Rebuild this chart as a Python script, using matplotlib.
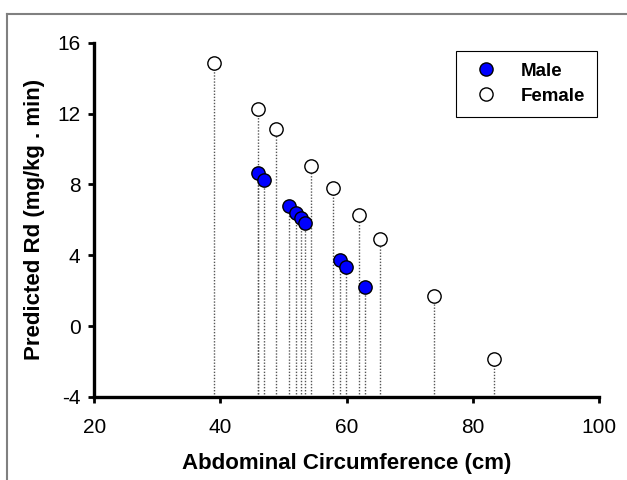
import numpy as np
import matplotlib.pyplot as plt
from matplotlib.lines import Line2D

plt.rcParams['font.family'] = ['Liberation Sans', 'DejaVu Sans']
plt.rcParams['axes.unicode_minus'] = False

# values
male_x = [45.9, 46.9, 50.9, 52.0, 52.7, 53.4, 58.9, 59.9, 62.9]
male_y = [8.62, 8.24, 6.78, 6.41, 6.12, 5.84, 3.74, 3.33, 2.19]
female_x = [38.9, 45.9, 48.8, 54.4, 57.9, 61.9, 65.3, 73.9, 83.3]
female_y = [14.88, 12.28, 11.14, 9.05, 7.77, 6.26, 4.90, 1.70, -1.86]

x_ticks = [20, 40, 60, 80, 100]
y_ticks = [-4, 0, 4, 8, 12, 16]

fig = plt.figure(figsize=(6.27, 4.8), dpi=100)
ax = fig.add_axes([0.1504, 0.173, 0.805, 0.738])

# drop lines to the x axis
all_x = female_x + male_x
all_y = female_y + male_y
ax.vlines(all_x, -4, all_y, colors='#555555', linestyles=(0, (1, 1.2)), lw=1.0, zorder=1)

ax.scatter(female_x, female_y, s=92, facecolor='white', edgecolor='black', lw=1, zorder=3)
ax.scatter(male_x, male_y, s=92, facecolor='#0000ff', edgecolor='black', lw=1, zorder=4)

ax.set_xlim(20, 100)
ax.set_ylim(-4, 16)
ax.set_xticks(x_ticks)
ax.set_yticks(y_ticks)
ax.tick_params(labelsize=15, width=2, length=4, direction='out')
ax.tick_params(axis='x', pad=11)
ax.tick_params(axis='y', pad=6)
for s in ['top', 'right']:
    ax.spines[s].set_visible(False)
for s in ['left', 'bottom']:
    ax.spines[s].set_linewidth(2.4)

ax.set_xlabel('Abdominal Circumference (cm)', fontsize=16, fontweight='bold', labelpad=12)
ax.set_ylabel('Predicted Rd (mg/kg . min)', fontsize=16, fontweight='bold', labelpad=9)

handles = [
    Line2D([], [], marker='o', ls='', markersize=9.5, markerfacecolor='#0000ff', markeredgecolor='black'),
    Line2D([], [], marker='o', ls='', markersize=9.5, markerfacecolor='white', markeredgecolor='black'),
]
leg = ax.legend(handles, ['Male', 'Female'], loc='upper right', bbox_to_anchor=(0.996, 0.978),
                fancybox=False, edgecolor='black', framealpha=1, prop={'weight': 'bold', 'size': 13.5},
                handlelength=1.9, handletextpad=0.9, borderpad=0.65, labelspacing=0.42, borderaxespad=0)
leg.get_frame().set_linewidth(0.8)

# grey border lines on top and left of the picture
fig.add_artist(Line2D([7 / 627, 1], [1 - 13.5 / 480] * 2, color='#808080', lw=1.5))
fig.add_artist(Line2D([7 / 627] * 2, [0, 1 - 13.5 / 480], color='#808080', lw=1.5))

fig.savefig('out.png', dpi=100)
